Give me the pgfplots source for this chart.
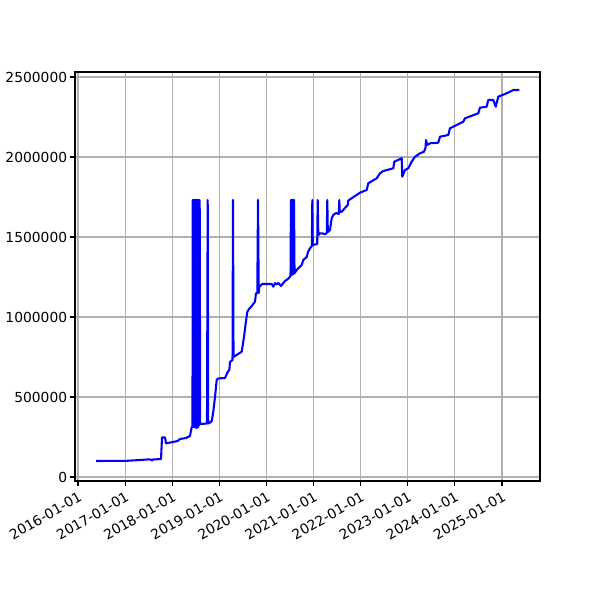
\documentclass[border=0pt]{standalone}
\usepackage{fontspec}
\setmainfont{DejaVu Sans}
\usepackage{pgfplots}
\pgfplotsset{compat=1.18}
\usepackage{pgfplotstable}

% date as fractional year, value
\pgfplotstableread{
year value
2016.382 100000
2017.040 101250
2017.316 106250
2017.528 110625
2017.571 103125
2017.592 109375
2017.762 112500
2017.783 246875
2017.847 246875
2017.868 210625
2017.910 212500
2018.116 225000
2018.165 237500
2018.293 243750
2018.377 256250
2018.414 312500
2018.430 314375
2018.435 1731250
2018.446 312500
2018.456 1731250
2018.467 312500
2018.478 1731250
2018.488 312500
2018.499 1731250
2018.509 306250
2018.520 1731250
2018.530 306250
2018.541 1731250
2018.552 312500
2018.562 1731250
2018.573 325000
2018.583 1731250
2018.594 331250
2018.611 331250
2018.738 334375
2018.753 1731250
2018.764 334375
2018.823 343750
2018.844 356250
2018.876 418750
2018.908 500000
2018.944 606250
2018.972 615625
2019.120 618750
2019.178 656250
2019.212 668750
2019.226 718750
2019.280 731250
2019.290 1731250
2019.301 750000
2019.475 783125
2019.524 876875
2019.560 960625
2019.594 1033125
2019.630 1050000
2019.687 1068750
2019.757 1095625
2019.778 1148125
2019.806 1150000
2019.821 1731250
2019.836 1150000
2019.848 1189375
2019.912 1206250
2020.112 1206250
2020.146 1189375
2020.182 1212500
2020.203 1203125
2020.252 1212500
2020.309 1193750
2020.394 1225000
2020.464 1239375
2020.511 1256250
2020.521 1731250
2020.532 1262500
2020.543 1731250
2020.553 1265625
2020.564 1731250
2020.574 1268750
2020.585 1731250
2020.596 1273125
2020.642 1293750
2020.712 1314375
2020.749 1325000
2020.782 1356250
2020.855 1375000
2020.882 1406250
2020.925 1429375
2020.963 1443750
2020.974 1731250
2020.984 1450000
2021.078 1456250
2021.088 1731250
2021.101 1512500
2021.137 1523125
2021.201 1521875
2021.243 1516875
2021.281 1525000
2021.292 1731250
2021.303 1531250
2021.349 1543750
2021.385 1616875
2021.419 1637500
2021.477 1650000
2021.536 1643750
2021.547 1731250
2021.557 1656250
2021.598 1658125
2021.725 1700000
2021.738 1728125
2021.880 1756250
2021.986 1776875
2022.128 1793750
2022.162 1835625
2022.341 1866875
2022.411 1898125
2022.481 1912500
2022.693 1929375
2022.714 1970625
2022.871 1991875
2022.884 1876875
2022.941 1918750
2023.011 1929375
2023.083 1970625
2023.154 2001875
2023.260 2023125
2023.345 2033125
2023.376 2056250
2023.387 2106250
2023.415 2075000
2023.472 2085625
2023.648 2089375
2023.684 2126875
2023.860 2137500
2023.896 2179375
2024.179 2220625
2024.215 2241875
2024.497 2273125
2024.533 2308125
2024.675 2314375
2024.709 2356250
2024.816 2356250
2024.867 2314375
2024.922 2376875
2025.100 2398125
2025.170 2408125
2025.240 2418750
2025.368 2418750
}\series

\begin{document}
\begin{tikzpicture}
\path (0,0) rectangle (6in,6in);
\begin{axis}[
  at={(0.75in,1.19in)}, anchor=south west,
  scale only axis,
  width=4.65in, height=4.09in,
  xmin=2015.936, xmax=2025.807,
  ymin=-25000, ymax=2531250,
  axis line style={line width=0.8pt},
  tick style={black, line width=0.8pt},
  tick align=outside,
  major tick length=3.5pt,
  xtick pos=bottom, ytick pos=left,
  grid=major,
  major grid style={color=black!31, line width=0.8pt},
  xtick={2016,2017,2018,2019,2020,2021,2022,2023,2024,2025},
  xticklabels={2016-01-01,2017-01-01,2018-01-01,2019-01-01,2020-01-01,2021-01-01,2022-01-01,2023-01-01,2024-01-01,2025-01-01},
  xticklabel style={rotate=30, anchor=north east, inner sep=2pt, yshift=-1pt},
  ytick={0,500000,1000000,1500000,2000000,2500000},
  yticklabels={0,500000,1000000,1500000,2000000,2500000},
  yticklabel style={inner sep=2pt},
  scaled y ticks=false,
]
\addplot[color=blue, line width=1.5pt, line join=round, mark=none] table {\series};
\end{axis}
\end{tikzpicture}
\end{document}
